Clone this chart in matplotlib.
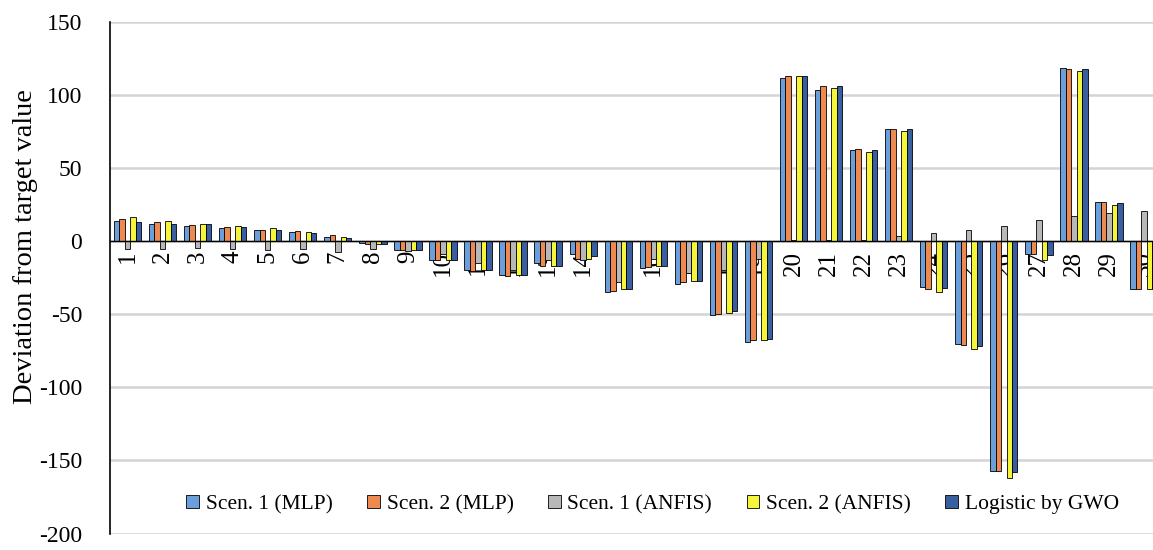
import numpy as np
import matplotlib
matplotlib.use("Agg")
import matplotlib.pyplot as plt

# Deviation values per test case
cases = [str(i) for i in range(1, 31)]
scen1_mlp = [14, 11.7, 10.3, 9, 8, 6, 3, -1, -6, -13, -20, -23, -15, -9, -35,
             -18.5, -29, -50.7, -69, 112, 103.6, 62.4, 76.6, -31.5, -70.5,
             -157, -8.6, 118.7, 27, -33]
scen2_mlp = [15, 13, 10.8, 9.5, 8, 6.7, 4.4, -2, -6, -13, -20.5, -24, -17, -12,
             -34, -17.4, -28, -49.5, -67.6, 113, 106, 63, 76.6, -33, -70.7,
             -157.5, -9, 117.8, 26.5, -33]
scen1_anfis = [-5, -5, -4.5, -5, -6, -5, -7.4, -5, -7, -9, -15, -20, -13, -13,
               -28, -12, -22, -20, -12, 0.5, 1, 1, 3.7, 5.4, 7.9, 10.6, 14.4,
               17, 19.5, 20.5]
scen2_anfis = [16.5, 14, 12, 10.5, 9, 6, 3, -2, -6, -13, -20, -23, -17, -12,
               -32.7, -17, -27, -48.9, -67.6, 113, 104.7, 60.8, 75.5, -34.5,
               -73.9, -162, -13, 116.4, 24.7, -33]
logistic_gwo = [13, 12, 11.5, 9.5, 8, 5.4, 2, -2, -6, -13, -20, -23, -17, -10,
                -32.7, -16.7, -27, -48, -67, 113.3, 106, 62.6, 77, -32, -71.6,
                -158, -9.7, 117.8, 26.1, -33]

series = [scen1_mlp, scen2_mlp, scen1_anfis, scen2_anfis, logistic_gwo]
names = ["Scen. 1 (MLP)", "Scen. 2 (MLP)", "Scen. 1 (ANFIS)",
         "Scen. 2 (ANFIS)", "Logistic by GWO"]
colors = ["#6A9FDB", "#EE8A50", "#B8B8B8", "#F5F53C", "#3A5FA0"]

plt.rcParams["font.family"] = ["Liberation Serif", "DejaVu Serif"]
plt.rcParams["axes.unicode_minus"] = False

fig = plt.figure(figsize=(11.53, 5.5), dpi=100)
ax = fig.add_axes([0.0954, 0.03, 0.912, 0.93])

x = np.arange(len(cases))
w = 0.156
for k, (vals, nm, c) in enumerate(zip(series, names, colors)):
    ax.bar(x + (k - 2) * w, vals, w, color=c, edgecolor="black",
           linewidth=0.6, label=nm, zorder=3)

ax.set_xlim(-0.5, len(cases) - 0.5)
ax.set_ylim(-200, 150)
ax.set_yticks(np.arange(-200, 151, 50))
ax.yaxis.grid(True, color="#d4d4d4", linewidth=1.8, zorder=0)
ax.set_axisbelow(True)

for s in ["top", "right"]:
    ax.spines[s].set_visible(False)
ax.spines["bottom"].set_position(("data", 0))
ax.spines["bottom"].set_linewidth(1.0)
ax.spines["bottom"].set_zorder(4)
ax.spines["left"].set_linewidth(1.2)

ax.set_xticks(x)
ax.set_xticklabels(cases, rotation=90, fontsize=18)
ax.tick_params(axis="x", length=0, pad=7)
ax.tick_params(axis="y", length=0, pad=20, labelsize=17)
ax.set_ylabel("Deviation from target value", fontsize=20.5)
ax.yaxis.set_label_coords(-0.068, 0.56)

ax.legend(loc="lower center", bbox_to_anchor=(0.516, 0.0), ncol=5,
          frameon=False, fontsize=15.5, handlelength=0.6, handleheight=0.6,
          handletextpad=0.3, columnspacing=1.6)

fig.savefig("out.png", dpi=100)
